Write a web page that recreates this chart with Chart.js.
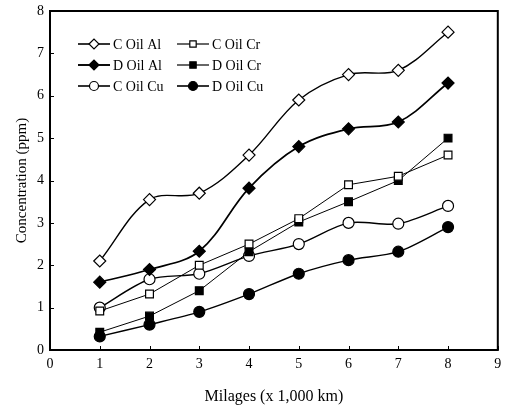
<!DOCTYPE html>
<html>
<head>
<meta charset="utf-8">
<script src="https://cdn.jsdelivr.net/npm/chart.js@4.4.0/dist/chart.umd.min.js"></script>
<style>
  html, body { margin: 0; padding: 0; background: #fff; }
  #wrap { width: 505px; height: 412px; }
</style>
</head>
<body>
<div id="wrap"><canvas id="myChart" width="505" height="412"></canvas></div>
<script>
// milage (x 1,000 km)
const milages = [1, 2, 3, 4, 5, 6, 7, 8];

const cOilAl = [2.1, 3.55, 3.7, 4.6, 5.9, 6.5, 6.6, 7.5];
const dOilAl = [1.6, 1.9, 2.33, 3.82, 4.8, 5.22, 5.38, 6.3];
const cOilCr = [0.92, 1.32, 2.0, 2.5, 3.1, 3.9, 4.1, 4.6];
const dOilCr = [0.42, 0.8, 1.4, 2.32, 3.02, 3.5, 4.0, 5.0];
const cOilCu = [1.0, 1.67, 1.8, 2.22, 2.5, 3.0, 2.98, 3.4];
const dOilCu = [0.32, 0.6, 0.9, 1.32, 1.8, 2.12, 2.32, 2.9];

const xTicks = [0, 1, 2, 3, 4, 5, 6, 7, 8, 9];
const yTicks = [0, 1, 2, 3, 4, 5, 6, 7, 8];

const font = "'Liberation Serif', 'DejaVu Serif', serif";

function pts(vals) {
  return milages.map((m, i) => ({ x: m, y: vals[i] }));
}

function series(label, vals, style, filled, width, tension, radius) {
  return {
    label: label,
    data: pts(vals),
    borderColor: "#000",
    borderWidth: width,
    backgroundColor: filled ? "#000" : "#fff",
    pointBackgroundColor: filled ? "#000" : "#fff",
    pointBorderColor: "#000",
    pointBorderWidth: 1.2,
    pointStyle: style,
    pointRadius: radius,
    pointRotation: 0,
    tension: tension,
  };
}

// order here = legend order (row by row, two columns)
const datasets = [
  series("C Oil Al", cOilAl, "rectRot", false, 1.4, 0.35, 6),
  series("C Oil Cr", cOilCr, "rect", false, 1, 0, 5.5),
  series("D Oil Al", dOilAl, "rectRot", true, 1.7, 0.35, 6),
  series("D Oil Cr", dOilCr, "rect", true, 1, 0, 5.5),
  series("C Oil Cu", cOilCu, "circle", false, 1.4, 0.3, 5.5),
  series("D Oil Cu", dOilCu, "circle", true, 1.4, 0.3, 5.5),
];

// frame, inward ticks and the legend inside the plot
const extras = {
  id: "extras",
  afterDraw(chart) {
    const ctx = chart.ctx;
    const a = chart.chartArea;
    const xs = chart.scales.x;
    const ys = chart.scales.y;
    ctx.save();
    ctx.strokeStyle = "#000";
    ctx.lineWidth = 2;
    ctx.strokeRect(a.left, a.top, a.right - a.left, a.bottom - a.top);

    ctx.lineWidth = 1;
    ctx.beginPath();
    xTicks.forEach((t) => {
      const px = Math.round(xs.getPixelForValue(t)) + 0.5;
      ctx.moveTo(px, a.bottom);
      ctx.lineTo(px, a.bottom - 4);
    });
    yTicks.forEach((t) => {
      const py = Math.round(ys.getPixelForValue(t)) + 0.5;
      ctx.moveTo(a.left, py);
      ctx.lineTo(a.left + 4, py);
    });
    ctx.stroke();

    // legend
    const cols = [a.left + 28, a.left + 127];
    const rows = [a.top + 33, a.top + 54, a.top + 75];
    ctx.font = "14px " + font;
    ctx.textBaseline = "middle";
    chart.data.datasets.forEach((ds, i) => {
      const x0 = cols[i % 2];
      const y0 = rows[Math.floor(i / 2)];
      ctx.beginPath();
      ctx.strokeStyle = "#000";
      ctx.lineWidth = ds.borderWidth + 0.2;
      ctx.moveTo(x0, y0);
      ctx.lineTo(x0 + 32, y0);
      ctx.stroke();
      ctx.fillStyle = ds.pointBackgroundColor;
      ctx.lineWidth = 1.2;
      Chart.helpers.drawPoint(ctx, {
        pointStyle: ds.pointStyle,
        radius: ds.pointRadius - 1,
        rotation: 0,
        borderWidth: 1.2,
      }, x0 + 16, y0);
      ctx.fillStyle = "#000";
      ctx.fillText(ds.label, x0 + 35, y0 + 1);
    });
    ctx.restore();
  },
};

const ctx = document.getElementById("myChart").getContext("2d");
const myChart = new Chart(ctx, {
  type: "line",
  data: { datasets: datasets },
  options: {
    responsive: false,
    animation: false,
    layout: { padding: { top: 11, right: -3, left: 0, bottom: 0 } },
    plugins: {
      legend: { display: false },
      tooltip: { enabled: false },
    },
    scales: {
      x: {
        type: "linear",
        min: 0,
        max: 9,
        afterBuildTicks: (s) => { s.ticks = xTicks.map((v) => ({ value: v })); },
        afterFit: (s) => { s.paddingRight = 0; },
        grid: { display: false, drawTicks: false },
        border: { display: false },
        ticks: { color: "#000", padding: 6, font: { family: font, size: 14 } },
        title: {
          display: true,
          text: "Milages (x 1,000 km)",
          color: "#000",
          padding: { top: 8, bottom: 6 },
          font: { family: font, size: 16 },
        },
      },
      y: {
        min: 0,
        max: 8,
        afterBuildTicks: (s) => { s.ticks = yTicks.map((v) => ({ value: v })); },
        afterFit: (s) => { s.paddingTop = 0; },
        grid: { display: false, drawTicks: false },
        border: { display: false },
        ticks: { color: "#000", padding: 6, font: { family: font, size: 14 } },
        title: {
          display: true,
          text: "Concentration (ppm)",
          color: "#000",
          padding: { top: 13, bottom: 0 },
          font: { family: font, size: 15 },
        },
      },
    },
  },
  plugins: [extras],
});
</script>
</body>
</html>
